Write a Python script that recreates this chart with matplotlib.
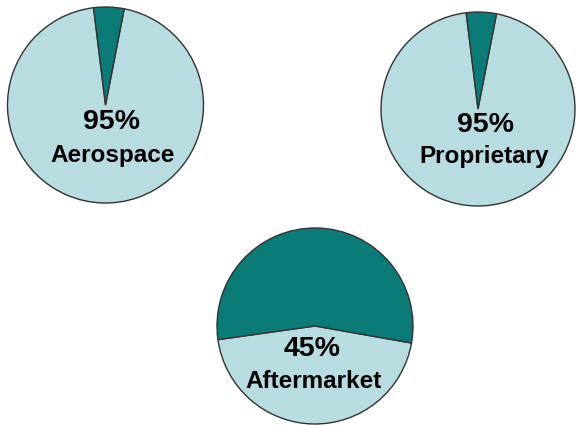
import matplotlib
matplotlib.use("Agg")
import matplotlib.pyplot as plt

# Share of each segment (light wedge), in percent
categories = ["Aerospace", "Proprietary", "Aftermarket"]
shares = [95, 95, 45]

W, H = 576, 425
# pie centres / radii in pixel space (y measured from top)
centers = [(105.5, 105), (478, 109), (315, 326)]
radii = [98, 97, 98]
start_angles = [97, 97, -172]
pct_offsets = [(6, 17), (7, 16), (-3, 23)]
name_offsets = [(7, 50), (6, 47), (-1, 55)]

light = "#b8dde1"
dark = "#0b7b77"

fig = plt.figure(figsize=(W / 100, H / 100), dpi=100)
ax = fig.add_axes([0, 0, 1, 1])

for cat, share, (cx, cy), r, sa, po, no in zip(
        categories, shares, centers, radii, start_angles, pct_offsets, name_offsets):
    yc = H - cy
    ax.pie([share, 100 - share], colors=[light, dark], startangle=sa,
           center=(cx, yc), radius=r, frame=True,
           wedgeprops=dict(edgecolor="#333333", linewidth=1.0))
    ax.text(cx + po[0], yc - po[1], f"{share}%", ha="center", va="center",
            fontsize=20.5, fontweight="bold", family="Liberation Sans", color="black")
    ax.text(cx + no[0], yc - no[1], cat, ha="center", va="center",
            fontsize=17.5, fontweight="bold", family="Liberation Sans", color="black")

ax.set_xlim(0, W)
ax.set_ylim(0, H)
ax.set_aspect("equal")
ax.axis("off")
fig.savefig("out.png", dpi=100, facecolor="white")
